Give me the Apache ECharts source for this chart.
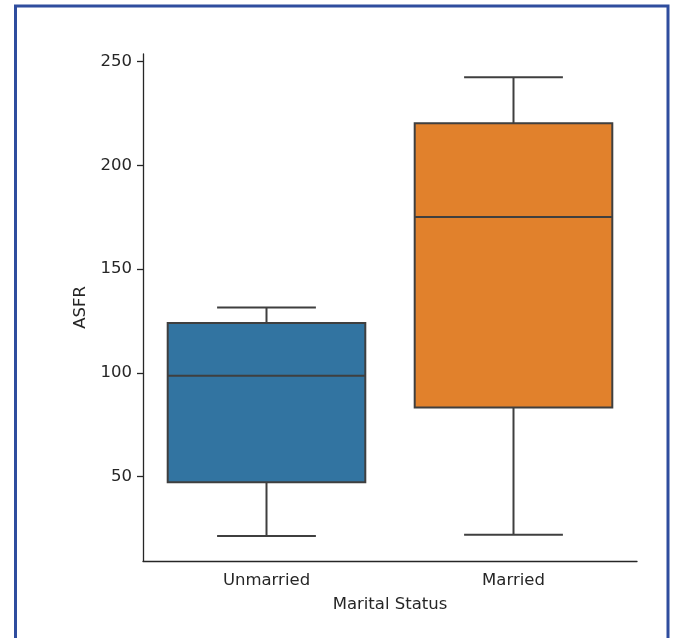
<!DOCTYPE html>
<html>
<head>
<meta charset="utf-8">
<script src="https://cdn.jsdelivr.net/npm/echarts@6/dist/echarts.min.js"></script>
<style>
  html, body { margin: 0; padding: 0; background: #fff; }
  #chart { width: 675px; height: 638px; }
</style>
</head>
<body>
<div id="chart"></div>
<script>
// Categories and box statistics: [low whisker, Q1, median, Q3, high whisker]
var categories = ['Unmarried', 'Married'];
var lowWhisker = [21.4, 22.0];
var q1Values = [47.3, 83.4];
var medianValues = [98.7, 175.2];
var q3Values = [124.1, 220.3];
var highWhisker = [131.6, 242.5];
var boxColors = ['#3274a1', '#e1812c'];
var yTicks = [50, 100, 150, 200, 250];

var seriesData = categories.map(function (c, i) {
  return [i, lowWhisker[i], q1Values[i], medianValues[i], q3Values[i], highWhisker[i]];
});

var edge = '#3f3f3f';
var font = 'DejaVu Sans';
var fs = 16.5;

var chart = echarts.init(document.getElementById('chart'), null, { renderer: 'canvas' });
chart.setOption({
  animation: false,
  backgroundColor: '#ffffff',
  graphic: [{
    type: 'rect',
    shape: { x: 15.5, y: 6, width: 652.5, height: 660 },
    style: { fill: 'none', stroke: '#2f4d9e', lineWidth: 3 },
    silent: true
  }],
  grid: { left: 143, right: 38, top: 54, bottom: 77 },
  xAxis: {
    type: 'category',
    data: categories,
    boundaryGap: true,
    axisLine: { lineStyle: { color: '#262626', width: 1.3 } },
    axisTick: { alignWithLabel: true, length: 6, lineStyle: { color: '#262626', width: 1.3 } },
    axisLabel: { color: '#262626', fontFamily: font, fontSize: fs, margin: 11 },
    name: 'Marital Status',
    nameLocation: 'middle',
    nameGap: 35,
    nameTextStyle: { color: '#262626', fontFamily: font, fontSize: fs }
  },
  yAxis: {
    type: 'value',
    min: 9.4,
    max: 253.7,
    axisLine: { show: true, lineStyle: { color: '#262626', width: 1.3 } },
    axisTick: { show: true, length: 6, customValues: yTicks, lineStyle: { color: '#262626', width: 1.3 } },
    axisLabel: { color: '#262626', fontFamily: font, fontSize: fs, margin: 11, customValues: yTicks },
    splitLine: { show: false },
    name: 'ASFR',
    nameLocation: 'middle',
    nameRotate: 90,
    nameGap: 52,
    nameTextStyle: { color: '#262626', fontFamily: font, fontSize: fs }
  },
  series: [{
    type: 'custom',
    data: seriesData,
    encode: { x: 0, y: [1, 2, 3, 4, 5] },
    renderItem: function (params, api) {
      var idx = api.value(0);
      var bw = api.size([1, 0])[0] * 0.8;
      var capW = bw / 2;
      var pLow = api.coord([idx, api.value(1)]);
      var pQ1 = api.coord([idx, api.value(2)]);
      var pMed = api.coord([idx, api.value(3)]);
      var pQ3 = api.coord([idx, api.value(4)]);
      var pHigh = api.coord([idx, api.value(5)]);
      var cx = pLow[0];
      var ls = { stroke: edge, lineWidth: 2 };
      return {
        type: 'group',
        children: [
          { type: 'line', shape: { x1: cx, y1: pLow[1], x2: cx, y2: pQ1[1] }, style: ls },
          { type: 'line', shape: { x1: cx, y1: pQ3[1], x2: cx, y2: pHigh[1] }, style: ls },
          { type: 'line', shape: { x1: cx - capW / 2, y1: pLow[1], x2: cx + capW / 2, y2: pLow[1] }, style: ls },
          { type: 'line', shape: { x1: cx - capW / 2, y1: pHigh[1], x2: cx + capW / 2, y2: pHigh[1] }, style: ls },
          { type: 'rect', shape: { x: cx - bw / 2, y: pQ3[1], width: bw, height: pQ1[1] - pQ3[1] },
            style: { fill: boxColors[idx], stroke: edge, lineWidth: 2 } },
          { type: 'line', shape: { x1: cx - bw / 2, y1: pMed[1], x2: cx + bw / 2, y2: pMed[1] }, style: ls }
        ]
      };
    }
  }]
});
</script>
</body>
</html>
